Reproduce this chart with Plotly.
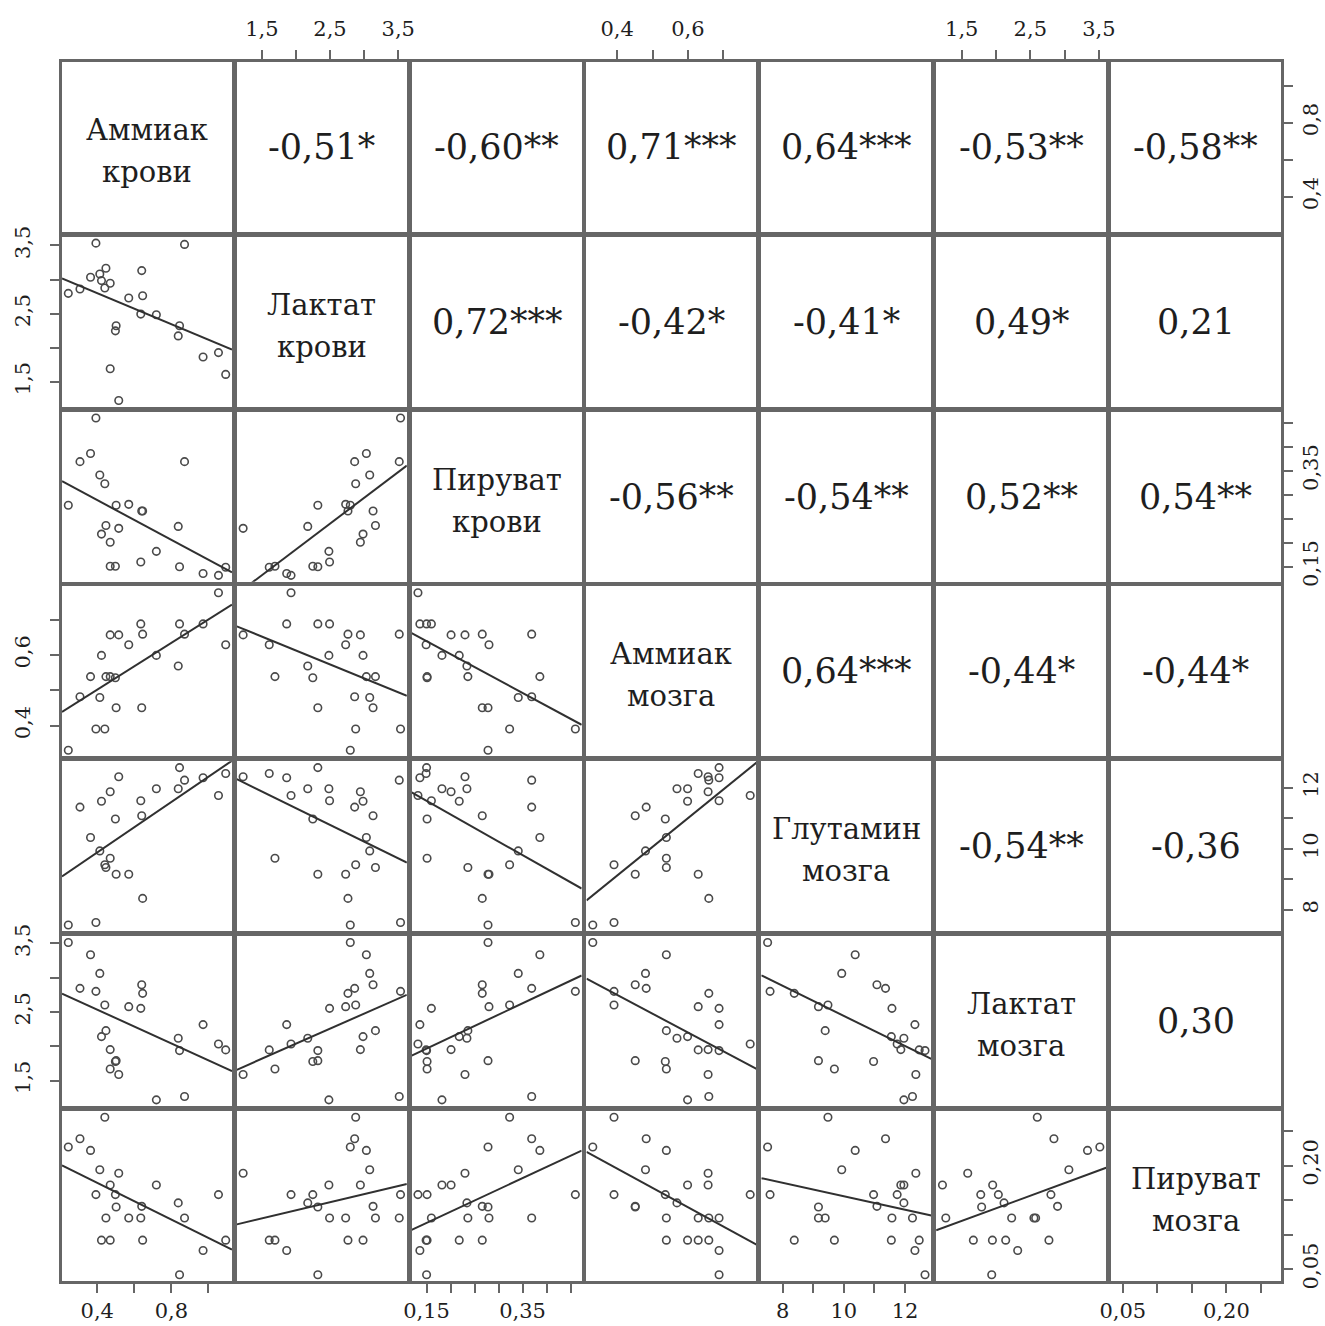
import numpy as np
import plotly.graph_objects as go

W, H = 1325, 1326

var_names = [["Аммиак", "крови"], ["Лактат", "крови"], ["Пируват", "крови"], ["Аммиак", "мозга"],
             ["Глутамин", "мозга"], ["Лактат", "мозга"], ["Пируват", "мозга"]]

ammiak_krovi = [0.244, 0.307, 0.364, 0.393, 0.414, 0.423, 0.441, 0.447, 0.470, 0.470, 0.498, 0.502,
                0.516, 0.570, 0.635, 0.640, 0.645, 0.719, 0.837, 0.844, 0.871, 0.971, 1.054, 1.093]
laktat_krovi = [2.797, 2.861, 3.033, 3.534, 3.082, 2.984, 2.876, 3.166, 2.945, 1.692, 2.247, 2.321,
                1.225, 2.729, 2.493, 3.131, 2.763, 2.483, 2.173, 2.321, 3.515, 1.864, 1.928, 1.608]
piruvat_krovi = [0.278, 0.369, 0.386, 0.460, 0.341, 0.218, 0.323, 0.236, 0.201, 0.151, 0.151, 0.278,
                 0.230, 0.280, 0.160, 0.266, 0.266, 0.182, 0.234, 0.150, 0.369, 0.136, 0.132, 0.149]
ammiak_mozga = [0.331, 0.482, 0.539, 0.391, 0.480, 0.599, 0.391, 0.539, 0.657, 0.539, 0.536, 0.451,
                0.657, 0.629, 0.688, 0.451, 0.659, 0.599, 0.569, 0.688, 0.659, 0.688, 0.776, 0.629]
glutamin_mozga = [7.51, 11.36, 10.37, 7.59, 9.93, 11.55, 9.48, 9.39, 11.86, 9.69, 10.97, 9.17,
                  12.35, 9.17, 11.57, 11.08, 8.38, 11.96, 11.96, 12.65, 12.24, 12.32, 11.74, 12.46]
laktat_mozga = [3.515, 2.845, 3.335, 2.801, 3.063, 2.141, 2.602, 2.228, 1.951, 1.669, 1.777, 1.790,
                1.587, 2.578, 2.553, 2.898, 2.772, 1.218, 2.117, 1.937, 1.267, 2.316, 2.034, 1.947]
piruvat_mozga = [0.227, 0.239, 0.222, 0.158, 0.194, 0.092, 0.270, 0.124, 0.172, 0.092, 0.158, 0.140,
                 0.189, 0.124, 0.124, 0.141, 0.092, 0.172, 0.146, 0.042, 0.124, 0.077, 0.158, 0.092]

# correlation labels, upper triangle, row by row
corr_row0 = ["-0,51*", "-0,60**", "0,71***", "0,64***", "-0,53**", "-0,58**"]
corr_row1 = ["0,72***", "-0,42*", "-0,41*", "0,49*", "0,21"]
corr_row2 = ["-0,56**", "-0,54**", "0,52**", "0,54**"]
corr_row3 = ["0,64***", "-0,44*", "-0,44*"]
corr_row4 = ["-0,54**", "-0,36"]
corr_row5 = ["0,30"]

tick_vals = [[0.4, 0.6, 0.8, 1.0], [1.5, 2.0, 2.5, 3.0, 3.5],
             [0.15, 0.20, 0.25, 0.30, 0.35, 0.40, 0.45], [0.4, 0.5, 0.6, 0.7],
             [8, 9, 10, 11, 12], [1.5, 2.0, 2.5, 3.0, 3.5], [0.05, 0.10, 0.15, 0.20, 0.25]]
tick_text = [["0,4", "", "0,8", ""], ["1,5", "", "2,5", "", "3,5"],
             ["0,15", "", "", "", "0,35", "", ""], ["0,4", "", "0,6", ""],
             ["8", "", "10", "", "12"], ["1,5", "", "2,5", "", "3,5"],
             ["0,05", "", "", "0,20", ""]]

data = [ammiak_krovi, laktat_krovi, piruvat_krovi, ammiak_mozga, glutamin_mozga, laktat_mozga, piruvat_mozga]
corrs = [corr_row0, corr_row1, corr_row2, corr_row3, corr_row4, corr_row5]
n = len(data)

FONT = "DejaVu Serif"
BORDER = "#666666"
INK = "#1e1e1e"
PT = "#4a4a4a"

rng = []
for v in data:
    a = np.array(v, dtype=float)
    span = a.max() - a.min()
    rng.append([a.min() - 0.04 * span, a.max() + 0.04 * span])

left0, top0, size, step = 62.0, 62.0, 170.0, 174.83

fig = go.Figure()
annotations = []
tickfont = dict(family=FONT, size=21, color=INK)

for r in range(n):
    for c in range(n):
        idx = r * n + c + 1
        sfx = "" if idx == 1 else str(idx)
        px0 = left0 + c * step
        py0 = top0 + r * step
        xd = [px0 / W, (px0 + size) / W]
        yd = [1 - (py0 + size) / H, 1 - py0 / H]
        xa = dict(domain=xd, anchor="y" + sfx, range=rng[c], showgrid=False, zeroline=False,
                  showline=True, mirror=True, linecolor=BORDER, linewidth=2.5, automargin=False,
                  ticks="", showticklabels=False, fixedrange=True)
        ya = dict(domain=yd, anchor="x" + sfx, range=rng[r], showgrid=False, zeroline=False,
                  showline=True, mirror=True, linecolor=BORDER, linewidth=2.5, automargin=False,
                  ticks="", showticklabels=False, fixedrange=True)
        if (r == 0 and c % 2 == 1) or (r == n - 1 and c % 2 == 0):
            xa.update(side="top" if r == 0 else "bottom", ticks="outside", ticklen=9, tickwidth=1.5,
                      tickcolor=BORDER, tickvals=tick_vals[c], ticktext=tick_text[c],
                      showticklabels=True, tickfont=tickfont,
                      ticklabelstandoff=6 if r == 0 else 0)
        if (c == 0 and r % 2 == 1) or (c == n - 1 and r % 2 == 0):
            ya.update(side="left" if c == 0 else "right", ticks="outside", ticklen=9, tickwidth=1.5,
                      tickcolor=BORDER, tickvals=tick_vals[r], ticktext=tick_text[r],
                      showticklabels=True, tickfont=tickfont, tickangle=-90,
                      ticklabelstandoff=12 if c == 0 else 0)
        fig.layout["xaxis" + sfx] = xa
        fig.layout["yaxis" + sfx] = ya

        cx = (px0 + size / 2) / W
        cy = 1 - (py0 + size / 2) / H
        if r == c:
            # keep the subplot (frame and ticks) drawn
            fig.add_trace(go.Scatter(x=[np.mean(rng[c])], y=[np.mean(rng[r])], mode="markers",
                                     xaxis="x" + sfx, yaxis="y" + sfx, marker=dict(opacity=0),
                                     showlegend=False, hoverinfo="skip"))
            for li, word in enumerate(var_names[r]):
                annotations.append(dict(x=cx, y=cy + (17 - 42 * li) / H, xref="paper", yref="paper",
                                        text=word, showarrow=False,
                                        font=dict(family=FONT, size=29, color=INK),
                                        xanchor="center", yanchor="middle"))
        elif c > r:
            fig.add_trace(go.Scatter(x=[np.mean(rng[c])], y=[np.mean(rng[r])], mode="markers",
                                     xaxis="x" + sfx, yaxis="y" + sfx, marker=dict(opacity=0),
                                     showlegend=False, hoverinfo="skip"))
            annotations.append(dict(x=cx, y=cy, xref="paper", yref="paper", text=corrs[r][c - r - 1],
                                    showarrow=False, font=dict(family=FONT, size=35, color=INK),
                                    xanchor="center", yanchor="middle"))
        else:
            xs = np.array(data[c], dtype=float)
            ys = np.array(data[r], dtype=float)
            fig.add_trace(go.Scatter(x=xs, y=ys, mode="markers", xaxis="x" + sfx, yaxis="y" + sfx,
                                     marker=dict(symbol="circle-open", size=7.5, color=PT,
                                                 line=dict(width=1.6, color=PT)),
                                     showlegend=False, hoverinfo="skip", cliponaxis=False))
            k, b = np.polyfit(xs, ys, 1)
            lx = np.array(rng[c])
            fig.add_trace(go.Scatter(x=lx, y=k * lx + b, mode="lines", xaxis="x" + sfx, yaxis="y" + sfx,
                                     line=dict(color="#303030", width=2),
                                     showlegend=False, hoverinfo="skip"))

fig.update_layout(template="none", width=W, height=H, margin=dict(l=0, r=0, t=0, b=0, pad=0),
                  paper_bgcolor="white", plot_bgcolor="white", annotations=annotations,
                  showlegend=False)
fig.write_html("out.html", config={"displayModeBar": False},
               post_script="document.body.style.margin='0px';document.body.style.overflow='hidden';")
